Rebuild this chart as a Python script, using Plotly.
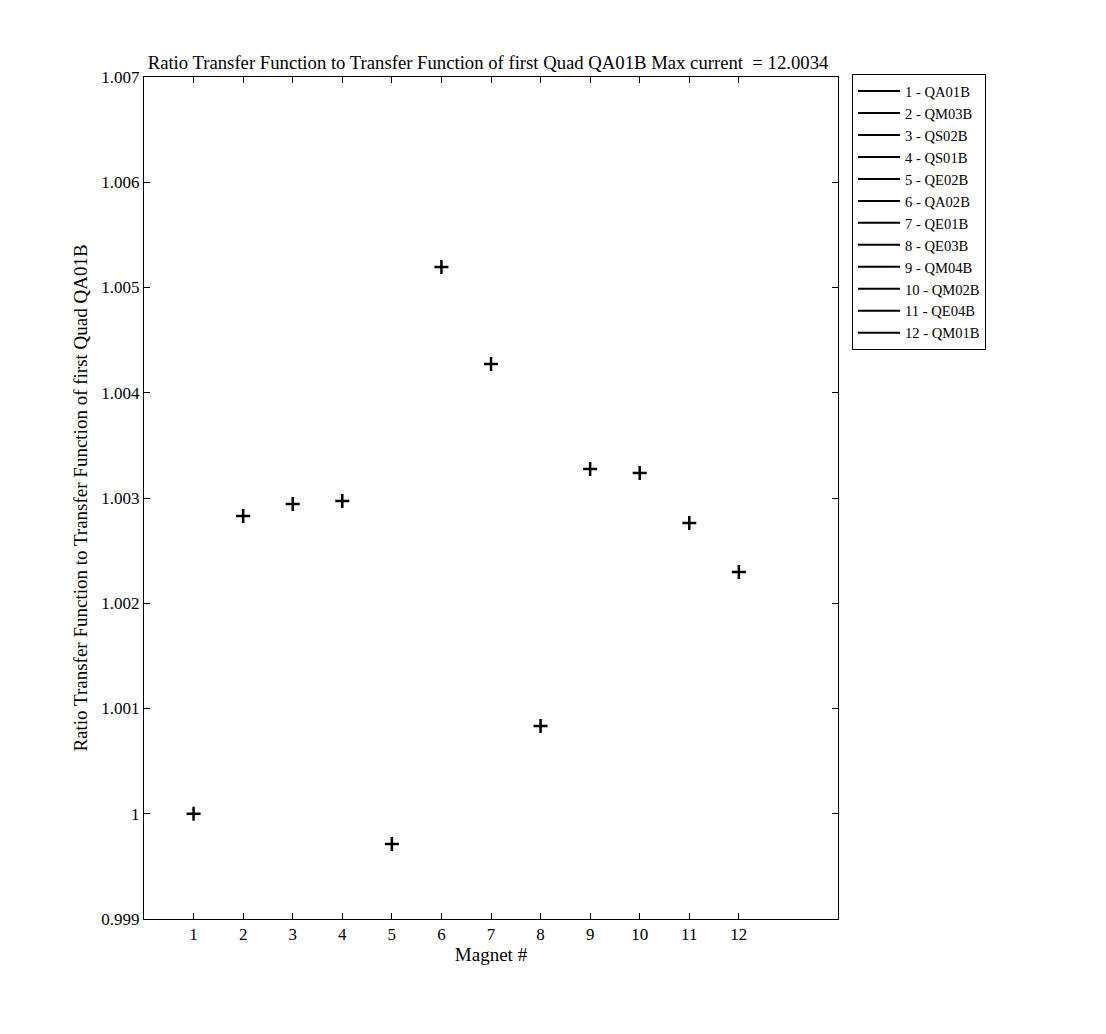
import plotly.graph_objects as go

magnets = list(range(1, 13))
names = ["QA01B", "QM03B", "QS02B", "QS01B", "QE02B", "QA02B",
         "QE01B", "QE03B", "QM04B", "QM02B", "QE04B", "QM01B"]
ratios = [1.000000, 1.002829, 1.002943, 1.002972, 0.999713, 1.005195,
          1.004273, 1.000834, 1.003276, 1.003238, 1.002762, 1.002297]
ytick_vals = [0.999, 1.000, 1.001, 1.002, 1.003, 1.004, 1.005, 1.006, 1.007]
ytick_text = ["0.999", "1", "1.001", "1.002", "1.003", "1.004", "1.005", "1.006", "1.007"]

FONT = "Liberation Serif, Times New Roman, serif"

# page has an 8px body margin; figure is sized to fit the rest
W, H = 1090, 1000
L, R, T = 136, 260, 69
PH = 842
B = H - T - PH
PW = W - L - R

fig = go.Figure()
for m, n, r in zip(magnets, names, ratios):
    fig.add_trace(go.Scatter(x=[m], y=[r], mode="markers",
                             marker=dict(symbol="cross-thin", size=10,
                                         line=dict(width=2.5, color="black")),
                             showlegend=False, hoverinfo="skip"))
    fig.add_trace(go.Scatter(x=[None], y=[None], mode="lines",
                             line=dict(color="black", width=2),
                             name=f"{m} - {n}"))

fig.update_layout(
    width=W, height=H,
    margin=dict(l=L, r=R, t=T, b=B),
    paper_bgcolor="white", plot_bgcolor="white",
    font=dict(family=FONT, size=17, color="black"),
    title=dict(text="Ratio Transfer Function to Transfer Function of first Quad QA01B Max current  = 12.0034",
               x=480 / W, xanchor="center", y=1 - 54 / H, yanchor="middle",
               font=dict(family=FONT, size=18.7, color="black")),
    xaxis=dict(range=[0, 14], tickvals=magnets, ticktext=[str(m) for m in magnets],
               ticks="inside", ticklen=6, tickcolor="black", mirror="ticks",
               showline=True, linecolor="black", linewidth=1, showgrid=False,
               zeroline=False, tickfont=dict(size=17),
               title=dict(text="Magnet #", standoff=2, font=dict(size=19))),
    yaxis=dict(range=[0.999, 1.007], tickvals=ytick_vals, ticktext=ytick_text,
               ticks="inside", ticklen=6, tickcolor="black", mirror="ticks",
               showline=True, linecolor="black", linewidth=1, showgrid=False,
               zeroline=False, tickfont=dict(size=17),
               title=dict(text="Ratio Transfer Function to Transfer Function of first Quad QA01B",
                          standoff=8, font=dict(size=19))),
    legend=dict(x=(844 - L) / PW, y=1 + 3 / PH, xref="paper", yref="paper",
                xanchor="left", yanchor="top",
                bordercolor="black", borderwidth=1, bgcolor="white",
                font=dict(family=FONT, size=14.6), tracegroupgap=0,
                itemwidth=42),
)

fig.write_html("out.html")
